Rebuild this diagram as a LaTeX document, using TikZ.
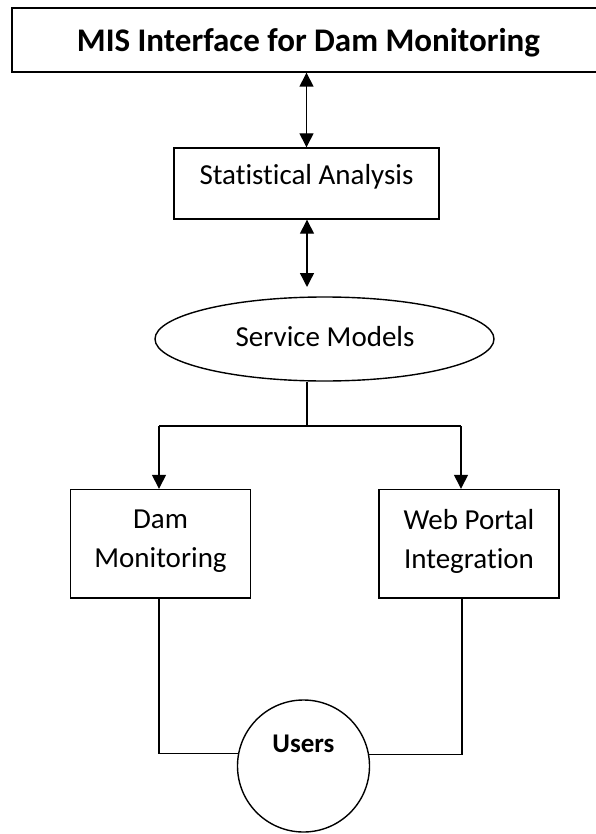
\documentclass[tikz,border=0pt]{standalone}
\usepackage{fontspec}
\setmainfont{Carlito}[Ligatures=NoCommon]
\usetikzlibrary{arrows.meta,shapes.geometric}
\begin{document}
\begin{tikzpicture}[x=1pt,y=-1pt,
  line width=1.4pt,
  box/.style={draw,rectangle,inner sep=0pt},
  th/.style={text height=22pt,text depth=3.4pt},
  lbl/.style={inner sep=0pt,th,font=\fontsize{29}{39}\selectfont},
  lbltwo/.style={inner sep=0pt,align=center,font=\fontsize{29}{39}\selectfont},
  tip/.style={-{Triangle[width=14pt,length=14pt]}},
  bothtip/.style={{Triangle[width=14pt,length=14pt]}-{Triangle[width=14pt,length=14pt]}},
  ]
\useasboundingbox (0,0) rectangle (596,834);

% top box
\node[box, minimum width=593pt, minimum height=64pt, inner sep=0pt,
      text height=24pt, text depth=1pt,
      font=\bfseries\fontsize{33}{39}\selectfont] (top) at (308.5,40) {MIS Interface for Dam Monitoring};

% statistical analysis
\node[box, minimum width=265pt, minimum height=71pt] (stat) at (306.5,183.5) {};
\node[lbl] (statt) at (306.5,175) {Statistical Analysis};

\draw[bothtip] (stat.north) -- (stat.north |- top.south);

% service models
\node[draw, ellipse, minimum width=339pt, minimum height=84pt, lbl] (svc) at (324.5,339) {};
\node[lbl] (svct) at (325,337) {Service Models};
\coordinate (a2) at (307,287);
\draw[bothtip] (stat.south -| a2) -- (a2);

% branch
\coordinate (j) at (307,426);
\coordinate (jl) at (159,426);
\coordinate (jr) at (461,426);

\node[box, minimum width=180pt, minimum height=108.5pt] (dam) at (160.5,543.75) {};
\node[lbltwo] (damt) at (160.5,541) {Dam\\Monitoring};
\node[box, minimum width=180pt, minimum height=108.5pt] (web) at (469,543.75) {};
\node[lbltwo] (webt) at (469,541) {Web Portal\\Integration};

\draw (svc.south -| j) -- (j);
\draw (jl) -- (jr);
\draw[tip] (jl) -- (jl |- dam.north);
\draw[tip] (jr) -- (jr |- web.north);

% users
\node[draw, circle, minimum size=132pt, inner sep=0pt] (users) at (303.5,766) {};
\node[inner sep=0pt, text height=20pt, text depth=3pt, font=\bfseries\fontsize{27}{33}\selectfont] (userst) at (303.5,744) {Users};

\coordinate (bl) at (159,754);
\coordinate (br) at (462,754);
\draw (bl |- dam.south) |- (users.169.5);
\draw (br |- web.south) |- (users.10.5);
\end{tikzpicture}
\end{document}
